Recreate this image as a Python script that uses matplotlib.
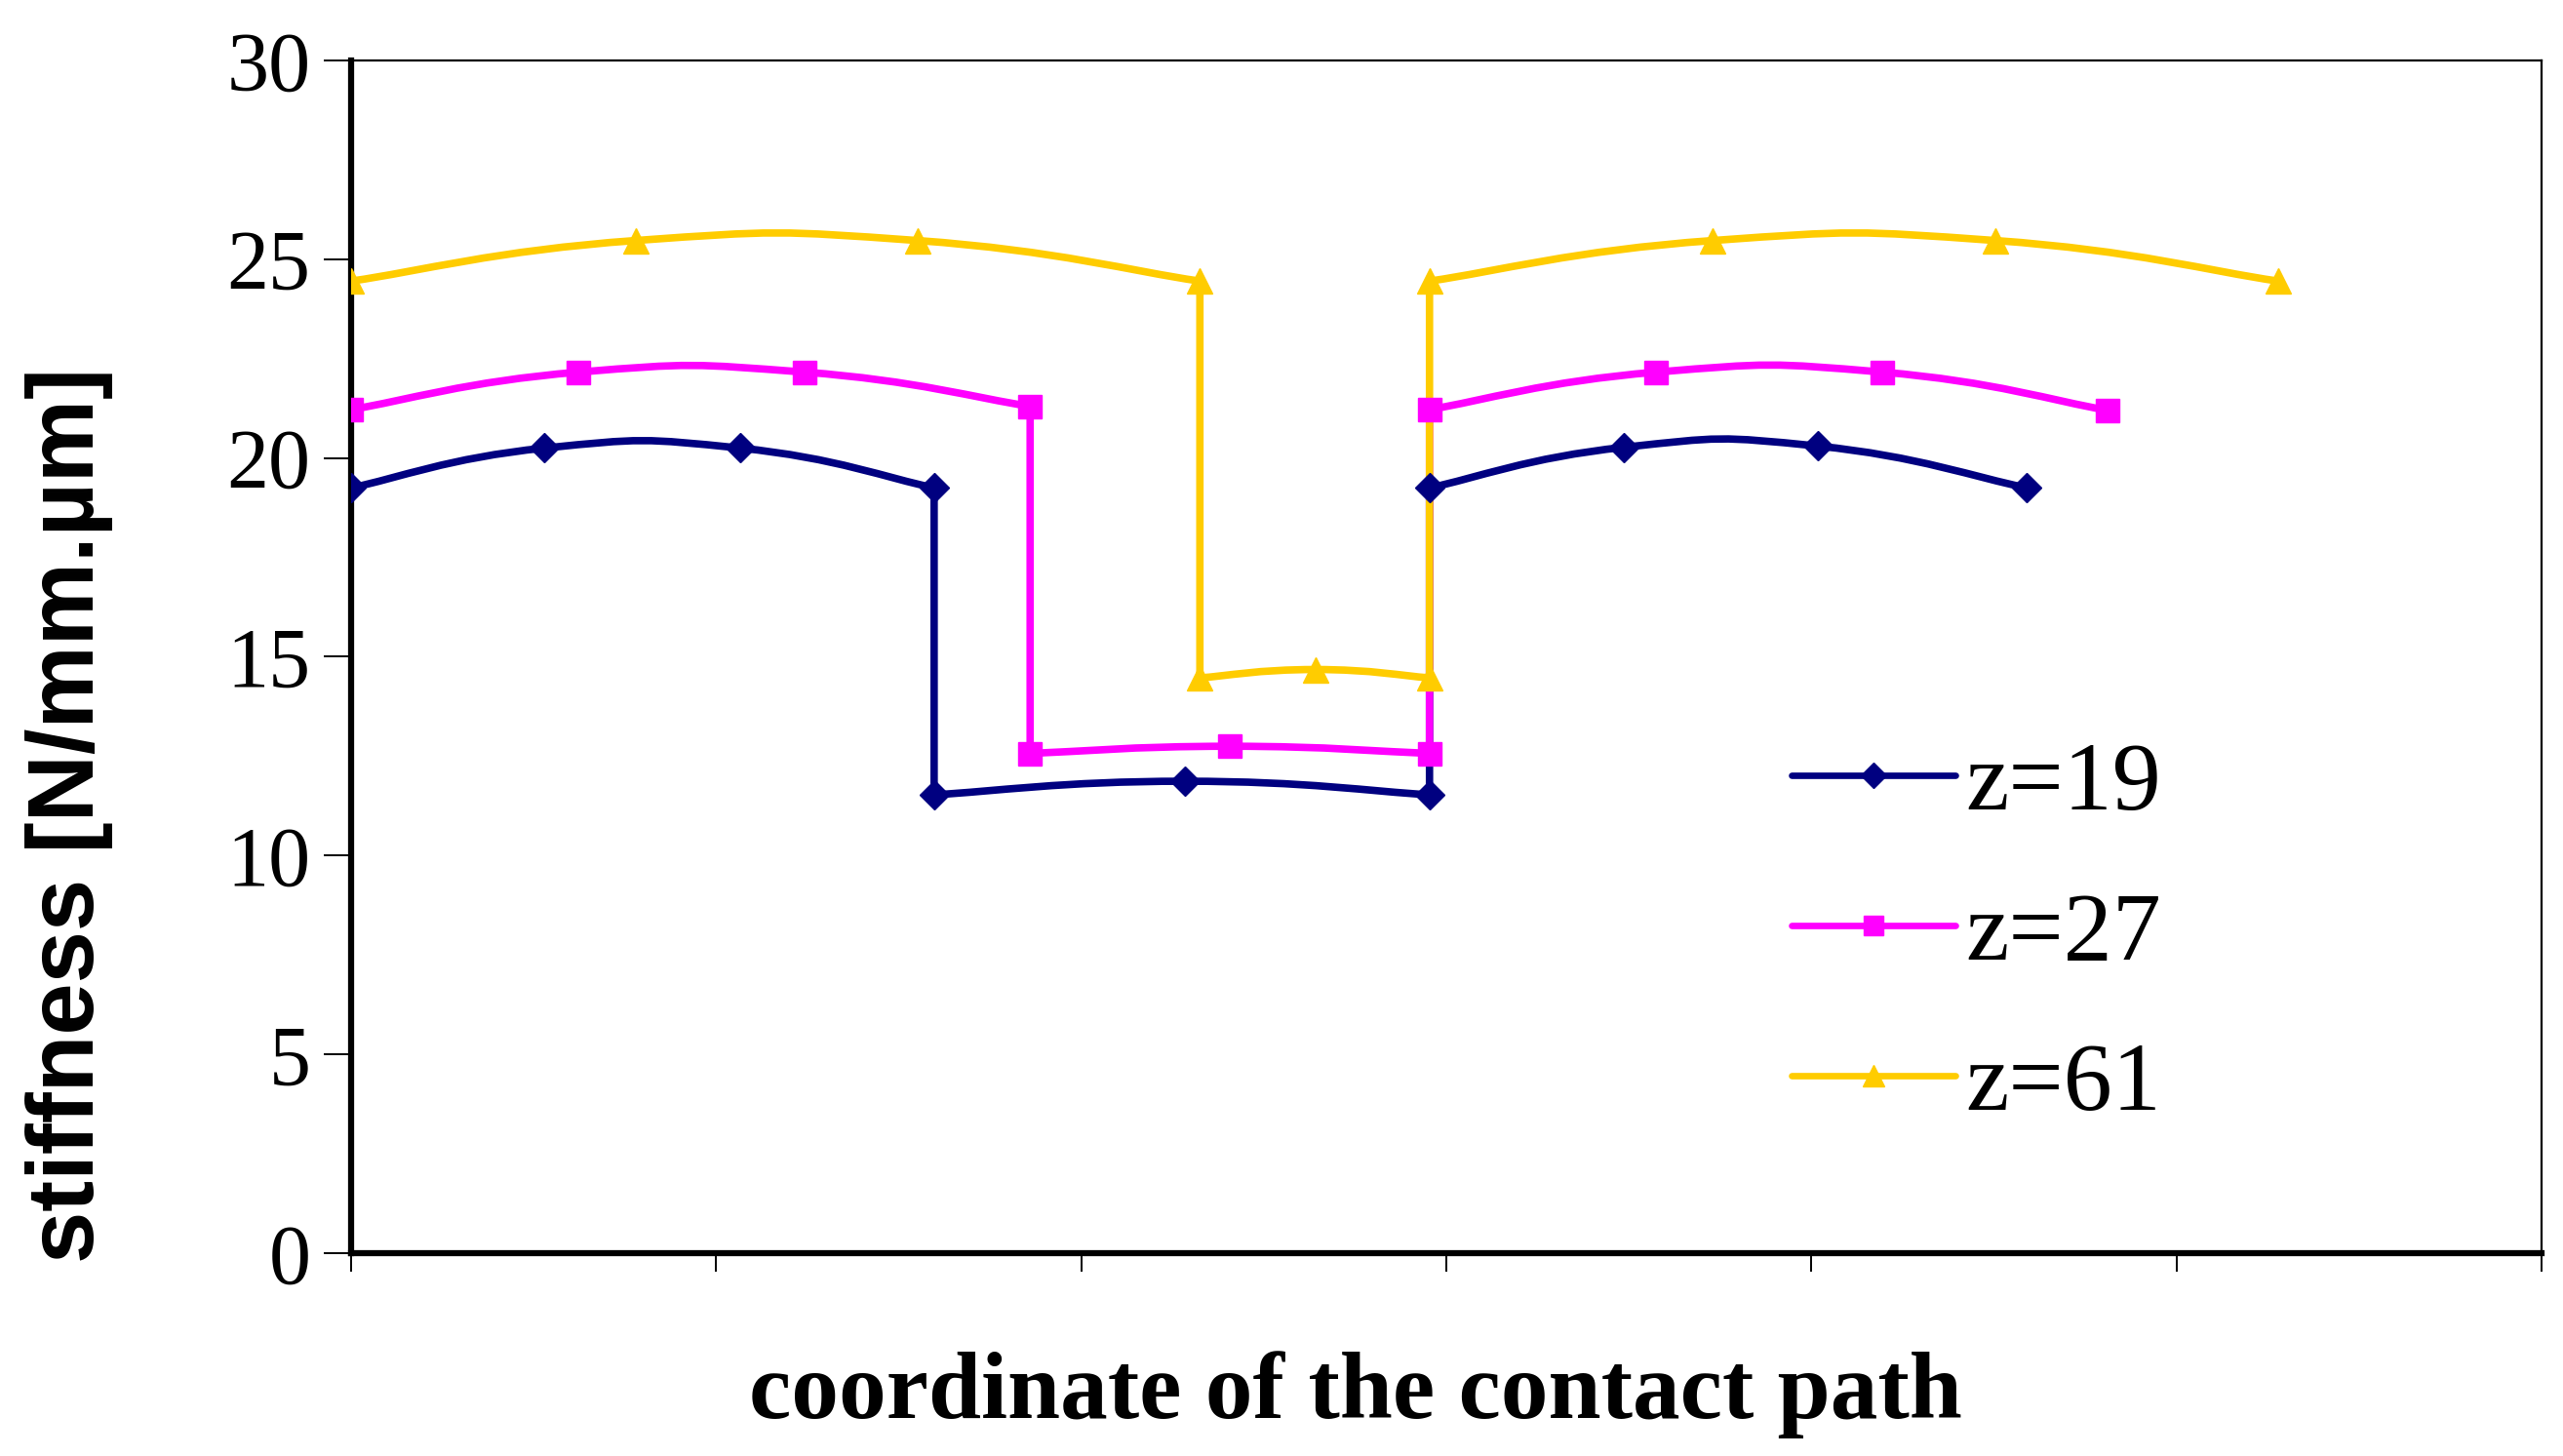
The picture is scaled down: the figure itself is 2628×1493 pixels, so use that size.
import numpy as np
import matplotlib
matplotlib.use('Agg')
import matplotlib.pyplot as plt
from matplotlib.path import Path
from matplotlib.patches import PathPatch
from matplotlib.lines import Line2D

# data (x in tick units along the contact path)
z19_x = [0, 0.53, 1.065, 1.597, 1.597, 2.283, 2.954, 2.954, 3.487, 4.018, 4.59]
z19_y = [19.25, 20.25, 20.25, 19.25, 11.53, 11.87, 11.53, 19.25, 20.27, 20.3, 19.25]
z27_x = [0, 0.623, 1.242, 1.86, 1.86, 2.407, 2.954, 2.954, 3.575, 4.195, 4.812]
z27_y = [21.22, 22.16, 22.16, 21.3, 12.57, 12.75, 12.57, 21.22, 22.16, 22.16, 21.2]
z61_x = [0, 0.779, 1.551, 2.325, 2.325, 2.641, 2.954, 2.954, 3.73, 4.504, 5.279]
z61_y = [24.45, 25.47, 25.47, 24.45, 14.47, 14.68, 14.47, 24.45, 25.47, 25.47, 24.45]

labels = ['z=19', 'z=27', 'z=61']
colors = ['#000080', '#FF00FF', '#FFCC00']
markers = ['D', 's', '^']
msizes = [15, 17, 19]
y_ticks = [0, 5, 10, 15, 20, 25, 30]

serif = ['Liberation Serif', 'DejaVu Serif']
sans = ['Liberation Sans', 'DejaVu Sans']


def smooth_path(xs, ys, t=0.25):
    # smoothed line like excel scatter, straight where x repeats (vertical jumps)
    pts = np.column_stack([xs, ys]).astype(float)
    verts = [pts[0]]
    codes = [Path.MOVETO]
    runs = []
    start = 0
    for i in range(1, len(pts)):
        if pts[i, 0] == pts[i - 1, 0]:
            runs.append((start, i - 1))
            start = i
    runs.append((start, len(pts) - 1))
    for k, (a, b) in enumerate(runs):
        if k > 0:
            verts.append(pts[a])
            codes.append(Path.LINETO)
        seg = pts[a:b + 1]
        n = len(seg)
        for i in range(n - 1):
            p0 = seg[i - 1] if i > 0 else seg[i]
            p1 = seg[i]
            p2 = seg[i + 1]
            p3 = seg[i + 2] if i + 2 < n else seg[i + 1]
            c1 = p1 + t * (p2 - p0)
            c2 = p2 - t * (p3 - p1)
            verts += [c1, c2, p2]
            codes += [Path.CURVE4] * 3
    return Path(verts, codes)


fig = plt.figure(figsize=(26.28, 14.93), dpi=100)
ax = fig.add_axes([0.137, 0.1393, 0.8546, 0.8192])

handles = []
for xs, ys, c, m, ms, lab in zip([z19_x, z27_x, z61_x], [z19_y, z27_y, z61_y],
                                 colors, markers, msizes, labels):
    ax.add_patch(PathPatch(smooth_path(xs, ys), facecolor='none', edgecolor=c,
                           lw=5.5, capstyle='round', joinstyle='round', zorder=2))
    ax.plot(xs, ys, ls='none', marker=m, ms=ms, color=c, mec=c, zorder=3)
    handles.append(Line2D([], [], color=c, lw=4.8, marker=m, ms=ms * 0.85,
                          solid_capstyle='round', label=lab))

ax.set_xlim(0, 6)
ax.set_ylim(0, 30)
ax.set_xticks(range(7))
ax.set_xticklabels([])
ax.set_yticks(y_ticks)
ax.set_yticklabels([str(v) for v in y_ticks], family=serif, fontsize=62)
ax.tick_params(axis='y', direction='out', length=20, width=1.4, pad=10)
ax.tick_params(axis='x', direction='out', length=14, width=1.4)

for s in ['left', 'bottom']:
    ax.spines[s].set_linewidth(4.5)
for s in ['top', 'right']:
    ax.spines[s].set_linewidth(1.6)

fig.text(0.027, 0.44, 'stiffness [N/mm.\u00b5m]', rotation=90, ha='center', va='center',
         family=sans, fontweight='bold', fontsize=69)
fig.text(0.529, 0.042, 'coordinate of the contact path', ha='center', va='center',
         family=serif, fontweight='bold', fontsize=70)

leg = ax.legend(handles=handles, loc='upper left', bbox_to_anchor=(0.64, 0.462),
                frameon=False, handlelength=1.68, handletextpad=0.1,
                labelspacing=0.63, borderaxespad=0,
                prop={'family': serif, 'size': 72})

fig.savefig('out.png', dpi=100)
